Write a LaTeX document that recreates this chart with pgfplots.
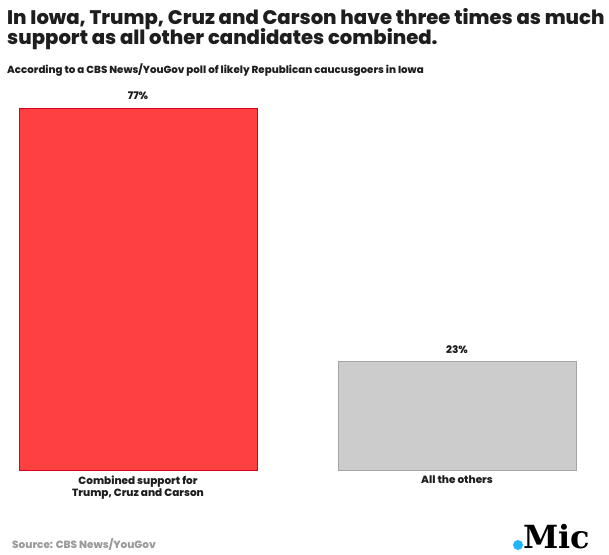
\documentclass[border=0pt]{standalone}
\usepackage{pgfplots}
\pgfplotsset{compat=1.18}
\usepackage{fontspec}
\setmainfont{Poppins}[BoldFont={Poppins ExtraBold}]
\newfontfamily\logofont{DejaVu Serif}
\definecolor{txt}{HTML}{1E1E1E}
\definecolor{redfill}{HTML}{FF4040}
\definecolor{redline}{HTML}{D9001B}
\definecolor{greyfill}{HTML}{CCCCCC}
\definecolor{greyline}{HTML}{A5A5A5}
\definecolor{srcgrey}{HTML}{9A9A9A}
\definecolor{micblue}{HTML}{1FB6FF}

\begin{document}
\begin{tikzpicture}[x=1bp,y=1bp]
\path[use as bounding box] (0,0) rectangle (609,555);

% title and subtitle
\node[anchor=base west, inner sep=0pt, text=txt,
  font=\fontsize{19.7}{20}\selectfont\bfseries] at (7,530)
  {In Iowa, Trump, Cruz and Carson have three times as much};
\node[anchor=base west, inner sep=0pt, text=txt,
  font=\fontsize{19.7}{20}\selectfont\bfseries] at (7,510)
  {support as all other candidates combined.};
\node[anchor=base west, inner sep=0pt, text=txt,
  font=\fontsize{10.3}{12}\selectfont\bfseries] at (7,481)
  {According to a CBS News/YouGov poll of likely Republican caucusgoers in Iowa};

\begin{axis}[at={(19bp,85bp)}, anchor=south west, scale only axis,
    width=557bp, height=362bp,
    xmin=-0.373, xmax=1.373, ymin=0, ymax=77,
    ybar, bar width=238bp, bar shift=0pt,
    axis line style={draw=none}, major tick length=0pt,
    ytick=\empty, xtick={0,1},
    xticklabels={{Combined support for\\Trump, Cruz and Carson},{All the others}},
    xticklabel style={align=center, anchor=north, inner sep=0pt, yshift=-6bp,
      text=txt, font=\fontsize{10.5}{12}\selectfont\bfseries},
    clip=false,
    nodes near coords={\pgfmathprintnumber[assume math mode=true]{\pgfplotspointmeta}\%},
    nodes near coords style={anchor=base, yshift=8bp, inner sep=0pt, text=txt,
      font=\fontsize{10.5}{12}\selectfont\bfseries}]
  \addplot[fill=redfill, draw=redline, line width=0.8bp] coordinates {(0,77)};
  \addplot[fill=greyfill, draw=greyline, line width=0.8bp] coordinates {(1,23)};
\end{axis}

% footer
\node[anchor=base west, inner sep=0pt, text=srcgrey,
  font=\fontsize{10.5}{12}\selectfont\bfseries] at (12,6) {Source: CBS News/YouGov};
\fill[micblue] (518,10) circle (5);
\node[anchor=base west, inner sep=0pt, text=black,
  font=\fontsize{32}{32}\logofont\bfseries] at (523,6.5) {Mic};
\end{tikzpicture}
\end{document}
